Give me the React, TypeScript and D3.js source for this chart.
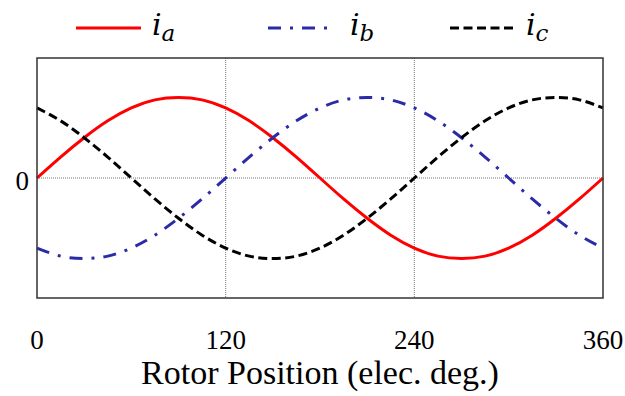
import React from 'react';
import { scaleLinear, line, curveNatural } from 'd3';

const width = 625;
const height = 396;
const margin = { top: 58, right: 22, bottom: 98, left: 37 };

// rotor position in electrical degrees
const angles = [0, 15, 30, 45, 60, 75, 90, 105, 120, 135, 150, 165, 180, 195, 210, 225, 240, 255, 270, 285, 300, 315, 330, 345, 360];

// phase currents (per unit of peak)
const ia = [0, 0.26, 0.5, 0.71, 0.87, 0.97, 1, 0.97, 0.87, 0.71, 0.5, 0.26, 0, -0.26, -0.5, -0.71, -0.87, -0.97, -1, -0.97, -0.87, -0.71, -0.5, -0.26, 0];
const ib = [-0.87, -0.97, -1, -0.97, -0.87, -0.71, -0.5, -0.26, 0, 0.26, 0.5, 0.71, 0.87, 0.97, 1, 0.97, 0.87, 0.71, 0.5, 0.26, 0, -0.26, -0.5, -0.71, -0.87];
const ic = [0.87, 0.71, 0.5, 0.26, 0, -0.26, -0.5, -0.71, -0.87, -0.97, -1, -0.97, -0.87, -0.71, -0.5, -0.26, 0, 0.26, 0.5, 0.71, 0.87, 0.97, 1, 0.97, 0.87];

const xTicks = [0, 120, 240, 360];
const xGrid = [120, 240];
const xAxisLabel = 'Rotor Position (elec. deg.)';

const series = [
  { name: 'a', values: ia, color: '#ff0000', dash: null },
  { name: 'b', values: ib, color: '#2b2ba8', dash: '13 9 3 9' },
  { name: 'c', values: ic, color: '#000000', dash: '9 4.5' },
];

const serif = '"Liberation Serif", "Times New Roman", serif';
const mathFont = '"DejaVu Serif", "Liberation Serif", serif';

// legend line starts and label starts (px)
const legendLineX = [76, 268, 450];
const legendTextX = [152, 350, 526];

const App = () => {
  const innerWidth = width - margin.left - margin.right;
  const innerHeight = height - margin.top - margin.bottom;

  const xScale = scaleLinear().domain([0, 360]).range([0, innerWidth]);
  const yScale = scaleLinear().domain([-1.49, 1.49]).range([innerHeight, 0]);

  const pathFor = (values: number[]) =>
    line<number>()
      .x((_, i) => xScale(angles[i]))
      .y(d => yScale(d))
      .curve(curveNatural)(values) as string;

  return (
    <svg width={width} height={height} style={{ position: 'absolute', left: 0, top: 0 }}>
      {/* legend */}
      {series.map((s, i) => (
        <g key={s.name}>
          <line
            x1={legendLineX[i]}
            x2={legendLineX[i] + 65}
            y1={28}
            y2={28}
            stroke={s.color}
            strokeWidth={3}
            strokeDasharray={s.dash || undefined}
          />
          <text x={legendTextX[i]} y={35} fontFamily={mathFont} fontStyle="italic" fontSize={30}>
            i
            <tspan fontSize={23} dy={6}>{s.name}</tspan>
          </text>
        </g>
      ))}

      <g transform={`translate(${margin.left},${margin.top})`}>
        {xGrid.map(t => (
          <line key={t} x1={xScale(t)} x2={xScale(t)} y1={0} y2={innerHeight} stroke="#777" strokeWidth={1} strokeDasharray="1 1" />
        ))}
        <line x1={0} x2={innerWidth} y1={yScale(0)} y2={yScale(0)} stroke="#777" strokeWidth={1} strokeDasharray="1 1" />

        {series.map(s => (
          <path key={s.name} d={pathFor(s.values)} fill="none" stroke={s.color} strokeWidth={3} strokeDasharray={s.dash || undefined} />
        ))}

        <rect x={0} y={0} width={innerWidth} height={innerHeight} fill="none" stroke="#333" strokeWidth={1.5} />

        <text x={-8} y={yScale(0) + 12} textAnchor="end" fontFamily={serif} fontSize={27}>
          0
        </text>

        {xTicks.map(t => (
          <text key={t} x={xScale(t)} y={innerHeight + 51} textAnchor="middle" fontFamily={serif} fontSize={27}>
            {t}
          </text>
        ))}

        <text x={innerWidth / 2} y={innerHeight + 86} textAnchor="middle" fontFamily={serif} fontSize={34}>
          {xAxisLabel}
        </text>
      </g>
    </svg>
  );
};

export default App;
